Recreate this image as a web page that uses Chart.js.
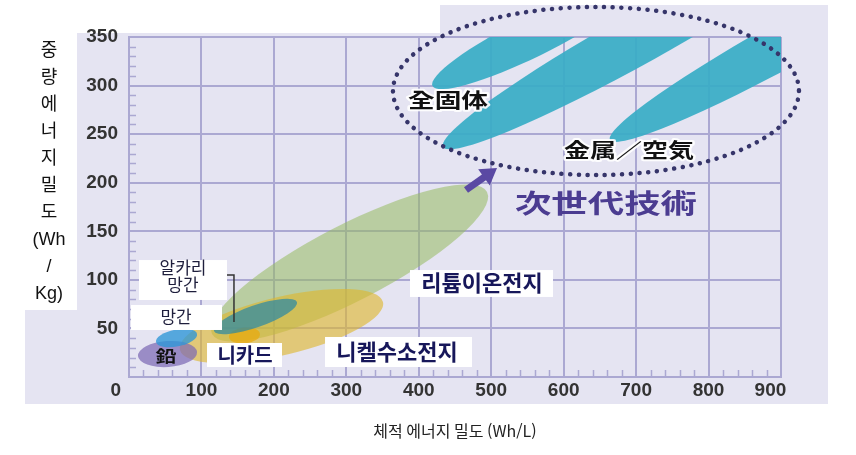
<!DOCTYPE html>
<html lang="ko">
<head>
<meta charset="utf-8">
<title>전지 에너지 밀도</title>
<script src="https://cdn.jsdelivr.net/npm/chart.js@4.4.1/dist/chart.umd.min.js"></script>
<style>
  html, body { margin: 0; padding: 0; background: #fff; }
  #wrap { width: 856px; height: 455px; }
</style>
</head>
<body>
<div id="wrap"><canvas id="myChart" width="856" height="455"></canvas></div>
<script>
// battery regions, drawn in this order (long axis start -> end, half width in Wh/kg)
var regionNames = ["리튬이온전지", "니켈수소전지", "鉛", "망간", "니카드", "알카리 망간", "全固体", "全固体", "金属／空気"];
var regionStartX = [114.6, 70.4, 12.4, 37.3, 138.0, 117.3, 419.0, 433.5, 664.0];
var regionStartY = [44.3, 27.8, 21.6, 36.0, 41.2, 47.4, 299.6, 236.8, 244.0];
var regionEndX = [494.2, 350.6, 93.9, 93.9, 180.8, 231.9, 694.3, 980.1, 1185.7];
var regionEndY = [190.4, 77.2, 25.7, 44.3, 44.3, 77.2, 400.4, 463.2, 458.1];
var regionHalfWidth = [39.1, 29.9, 13.4, 8.7, 8.2, 11.3, 20.5, 26.5, 24.0];

var xTickLabels = ["0", "100", "200", "300", "400", "500", "600", "700", "800", "900"];
var yTickLabels = ["", "50", "100", "150", "200", "250", "300", "350"];

var regionColors = [
  "rgba(150, 185, 95, 0.55)",
  "rgba(222, 182, 45, 0.62)",
  "rgba(125, 105, 180, 0.72)",
  "rgba(45, 150, 215, 0.78)",
  "rgba(232, 170, 15, 0.75)",
  "rgba(40, 135, 165, 0.7)",
  "rgba(55, 172, 198, 0.92)",
  "rgba(55, 172, 198, 0.92)",
  "rgba(55, 172, 198, 0.92)",
];

var gridColor = "#aba8d2";
var navy = "#17175a";
var KR = '"Noto Sans CJK KR", sans-serif';
var JP = '"Noto Sans CJK JP", sans-serif';

function drawText(ctx, text, cx, cy, font, color, stretch, halo) {
  ctx.save();
  ctx.translate(cx, cy);
  ctx.scale(stretch || 1, 1);
  ctx.font = font;
  ctx.textAlign = "center";
  ctx.textBaseline = "middle";
  if (halo) {
    ctx.lineWidth = 4;
    ctx.lineJoin = "round";
    ctx.strokeStyle = "rgba(255,255,255,0.9)";
    ctx.strokeText(text, 0, 0);
  }
  ctx.fillStyle = color;
  ctx.fillText(text, 0, 0);
  ctx.restore();
}

// lavender panel + stacked y title
var backgroundPlugin = {
  id: "panel",
  beforeDraw: function (chart) {
    var ctx = chart.ctx;
    ctx.save();
    ctx.fillStyle = "#fff";
    ctx.fillRect(0, 0, chart.width, chart.height);
    ctx.fillStyle = "#e5e4f2";
    ctx.beginPath();
    ctx.moveTo(25, 33);
    ctx.lineTo(440, 33);
    ctx.lineTo(440, 5);
    ctx.lineTo(828, 5);
    ctx.lineTo(828, 404);
    ctx.lineTo(25, 404);
    ctx.closePath();
    ctx.fill();
    ctx.fillStyle = "#fff";
    ctx.fillRect(25, 33, 52, 277);
    var lines = ["중", "량", "에", "너", "지", "밀", "도", "(Wh", "/", "Kg)"];
    lines.forEach(function (t, i) {
      drawText(ctx, t, 49, 51 + i * 27, '18px "Liberation Sans", ' + KR, "#111");
    });
    ctx.restore();
  },
};

// each region is an ellipse along its long axis
var regionPlugin = {
  id: "regions",
  beforeDatasetsDraw: function (chart) {
    var ctx = chart.ctx;
    var x = chart.scales.x;
    var y = chart.scales.y;
    var area = chart.chartArea;
    var unitY = Math.abs(y.getPixelForValue(0) - y.getPixelForValue(1));
    ctx.save();
    ctx.beginPath();
    ctx.rect(area.left, area.top, area.right - area.left, area.bottom - area.top);
    ctx.clip();
    chart.data.datasets.forEach(function (ds) {
      var x1 = x.getPixelForValue(ds.data[0].x);
      var y1 = y.getPixelForValue(ds.data[0].y);
      var x2 = x.getPixelForValue(ds.data[1].x);
      var y2 = y.getPixelForValue(ds.data[1].y);
      var a = Math.hypot(x2 - x1, y2 - y1) / 2;
      var b = ds.halfWidth * unitY;
      ctx.beginPath();
      ctx.ellipse((x1 + x2) / 2, (y1 + y2) / 2, a, b, Math.atan2(y2 - y1, x2 - x1), 0, Math.PI * 2);
      ctx.fillStyle = ds.backgroundColor;
      ctx.fill();
    });
    ctx.restore();
  },
};

var minorTickPlugin = {
  id: "minorTicks",
  afterDatasetsDraw: function (chart) {
    var ctx = chart.ctx;
    var x = chart.scales.x;
    var y = chart.scales.y;
    var area = chart.chartArea;
    ctx.save();
    ctx.strokeStyle = gridColor;
    ctx.lineWidth = 1.5;
    ctx.beginPath();
    for (var v = 10; v < 350; v += 10) {
      if (v % 50 === 0) continue;
      var py = Math.round(y.getPixelForValue(v)) + 0.5;
      ctx.moveTo(area.left, py);
      ctx.lineTo(area.left + 7, py);
    }
    for (var u = 20; u < 900; u += 20) {
      if (u % 100 === 0) continue;
      var px = Math.round(x.getPixelForValue(u)) + 0.5;
      ctx.moveTo(px, area.bottom);
      ctx.lineTo(px, area.bottom - 7);
    }
    ctx.stroke();
    ctx.restore();
  },
};

// name boxes, next-generation ring and arrow
var labelPlugin = {
  id: "labels",
  afterDatasetsDraw: function (chart) {
    var ctx = chart.ctx;
    var xs = chart.scales.x;
    var ys = chart.scales.y;
    function X(v) { return xs.getPixelForValue(v); }
    function Y(v) { return ys.getPixelForValue(v); }

    ctx.save();
    ctx.fillStyle = "#fff";
    [
      [13.8, 120.4, 135.3, 79.3],
      [2.8, 74.1, 128.4, 48.4],
      [107.7, 35.0, 211.2, 10.3],
      [270.6, 41.2, 473.5, 10.3],
      [387.9, 110.1, 585.3, 82.4],
    ].forEach(function (r) {
      ctx.fillRect(X(r[0]), Y(r[1]), X(r[2]) - X(r[0]), Y(r[3]) - Y(r[1]));
    });

    // bracket for 알카리 망간
    ctx.strokeStyle = "#333";
    ctx.lineWidth = 1.5;
    ctx.beginPath();
    ctx.moveTo(X(135.3), Y(105.0));
    ctx.lineTo(X(144.9), Y(105.0));
    ctx.lineTo(X(144.9), Y(56.6));
    ctx.stroke();

    drawText(ctx, "알카리", X(74.5), Y(112.2), "17px " + KR, "#1e1e3c");
    drawText(ctx, "망간", X(74.5), Y(94.7), "17px " + KR, "#1e1e3c");
    drawText(ctx, "망간", X(64.9), Y(61.8), "17px " + KR, "#1e1e3c");
    drawText(ctx, "鉛", X(51.1), Y(21.6), "bold 16px " + JP, "#111", 1.3);
    drawText(ctx, "니카드", X(160.1), Y(22.6), "bold 20px " + KR, navy);
    drawText(ctx, "니켈수소전지", X(369.9), Y(25.7), "bold 22px " + KR, navy);
    drawText(ctx, "리튬이온전지", X(487.3), Y(96.8), "bold 22px " + KR, navy);
    drawText(ctx, "全固体", X(440.3), Y(285.1), "bold 20px " + JP, "#111", 1.33, true);
    drawText(ctx, "金属／空気", X(690.2), Y(233.7), "bold 20px " + JP, "#111", 1.3, true);
    drawText(ctx, "次世代技術", X(658.4), Y(179.1), "bold 26px " + JP, "#4b3c91", 1.4);

    // dotted ring round the next-generation area
    var cx = X(644.6);
    var cy = Y(294.4);
    ctx.strokeStyle = "#36356a";
    ctx.lineWidth = 4.5;
    ctx.lineCap = "round";
    ctx.setLineDash([0.1, 8.6]);
    ctx.beginPath();
    ctx.ellipse(cx, cy, X(644.6 + 280.2) - cx, cy - Y(294.4 + 86.5), 0, 0, Math.PI * 2);
    ctx.stroke();
    ctx.setLineDash([]);

    // arrow
    var ax = X(465.2), ay = Y(192.5), bx = X(508.0), by = Y(215.1);
    var ang = Math.atan2(by - ay, bx - ax);
    var len = Math.hypot(bx - ax, by - ay);
    ctx.translate(ax, ay);
    ctx.rotate(ang);
    ctx.fillStyle = "#5a49a3";
    ctx.fillRect(0, -3.5, len - 13, 7);
    ctx.beginPath();
    ctx.moveTo(len, 0);
    ctx.lineTo(len - 16, -10);
    ctx.lineTo(len - 16, 10);
    ctx.closePath();
    ctx.fill();
    ctx.restore();
  },
};

var tickFont = { family: 'Arial, "Liberation Sans", sans-serif', size: 19, weight: "bold" };

var ctx = document.getElementById("myChart").getContext("2d");
new Chart(ctx, {
  type: "scatter",
  data: {
    datasets: regionNames.map(function (name, i) {
      return {
        label: name,
        data: [
          { x: regionStartX[i], y: regionStartY[i] },
          { x: regionEndX[i], y: regionEndY[i] },
        ],
        halfWidth: regionHalfWidth[i],
        backgroundColor: regionColors[i],
        pointRadius: 0,
        pointHoverRadius: 0,
        showLine: false,
      };
    }),
  },
  options: {
    responsive: false,
    animation: false,
    layout: { padding: { top: 37, right: 75, left: 0, bottom: 0 } },
    plugins: {
      legend: { display: false },
      tooltip: { enabled: false },
    },
    scales: {
      x: {
        type: "linear",
        min: 0,
        max: 900,
        ticks: {
          stepSize: 100,
          maxRotation: 0,
          autoSkip: false,
          padding: 2,
          color: "#333",
          font: tickFont,
          callback: function (value, index) {
            var label = xTickLabels[index];
            if (index === 0) return label + "     ";
            if (index === xTickLabels.length - 1) return label + "    ";
            return label;
          },
        },
        grid: { color: gridColor, lineWidth: 2, drawTicks: false },
        border: { color: gridColor, width: 2 },
        title: {
          display: true,
          text: "체적 에너지 밀도 (Wh/L)",
          color: "#222",
          font: { family: KR, size: 16 },
          padding: { top: 0, bottom: 14 },
        },
        afterFit: function (scale) {
          scale.height = 78;
          scale.paddingLeft = 0;
          scale.paddingRight = 0;
        },
      },
      y: {
        min: 0,
        max: 350,
        ticks: {
          stepSize: 50,
          padding: 11,
          color: "#333",
          font: tickFont,
          callback: function (value, index) {
            return yTickLabels[index];
          },
        },
        grid: { color: gridColor, lineWidth: 2, drawTicks: false },
        border: { color: gridColor, width: 2 },
        afterFit: function (scale) {
          scale.width = 129;
          scale.paddingTop = 0;
          scale.paddingBottom = 0;
        },
      },
    },
  },
  plugins: [backgroundPlugin, regionPlugin, minorTickPlugin, labelPlugin],
});
</script>
</body>
</html>
